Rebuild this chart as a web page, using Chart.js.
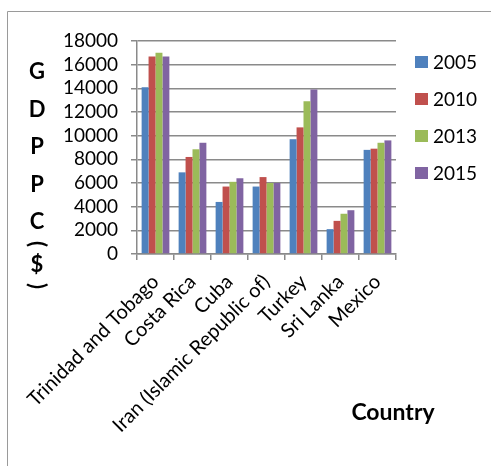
<!DOCTYPE html>
<html>
<head>
<meta charset="utf-8">
<script src="https://cdn.jsdelivr.net/npm/chart.js@4"></script>
<style>
  html, body { margin: 0; padding: 0; background: #fff; }
  #wrap { width: 491px; height: 466px; position: relative; }
</style>
</head>
<body>
<div id="wrap"><canvas id="chartGdp"></canvas></div>
<script>
const countries = ['Trinidad and Tobago', 'Costa Rica', 'Cuba', 'Iran (Islamic Republic of)', 'Turkey', 'Sri Lanka', 'Mexico'];
const years = ['2005', '2010', '2013', '2015'];
const gdp2005 = [14100, 6900, 4400, 5700, 9700, 2100, 8800];
const gdp2010 = [16700, 8200, 5700, 6500, 10700, 2800, 8900];
const gdp2013 = [17000, 8850, 6100, 6000, 12900, 3400, 9400];
const gdp2015 = [16700, 9400, 6400, 6000, 13900, 3700, 9600];
const yTicks = [0, 2000, 4000, 6000, 8000, 10000, 12000, 14000, 16000, 18000];
const colores = ['#4F81BD', '#C0504D', '#9BBB59', '#8064A2'];

const font = 'Lato, "Liberation Sans", sans-serif';
const gris = '#8a8a8a';

// --- marco, titulos y leyenda dibujados a mano ---
const extras = {
    id: 'extras',
    beforeDraw(chart) {
        const c = chart.ctx;
        c.save();
        c.fillStyle = '#fff';
        c.fillRect(0, 0, chart.width, chart.height);
        c.strokeStyle = '#9a9a9a';
        c.lineWidth = 1;
        c.beginPath();
        c.moveTo(7.5, chart.height);
        c.lineTo(7.5, 11.5);
        c.lineTo(chart.width, 11.5);
        c.stroke();
        c.restore();
    },
    afterDraw(chart) {
        const c = chart.ctx;
        c.save();
        c.fillStyle = '#000';
        c.textAlign = 'center';
        c.textBaseline = 'middle';
        c.font = 'bold 22px ' + font;
        const letras = ['G', 'D', 'P', 'P', 'C', '(', '$', ')'];
        const ys = [72, 110, 147, 185, 222, 244, 265, 286];
        letras.forEach((l, i) => {
            if (l === '(' || l === ')') {
                c.save();
                c.translate(37, ys[i]);
                c.rotate(Math.PI / 2);
                c.fillText(l, 0, 0);
                c.restore();
            } else {
                c.fillText(l, 37, ys[i]);
            }
        });

        c.font = 'bold 23px ' + font;
        c.fillText('Country', 393, 413);

        // leyenda
        c.font = '19px ' + font;
        c.textAlign = 'left';
        chart.data.datasets.forEach((ds, i) => {
            const y = 62 + i * 37;
            c.fillStyle = ds.backgroundColor;
            c.fillRect(415, y - 6, 13, 12);
            c.fillStyle = '#000';
            c.fillText(ds.label, 433, y + 1);
        });
        c.restore();
    }
};

const ctx = document.getElementById('chartGdp');
new Chart(ctx.getContext('2d'), {
    type: 'bar',
    data: {
        labels: countries,
        datasets: [
            { label: years[0], data: gdp2005, backgroundColor: colores[0] },
            { label: years[1], data: gdp2010, backgroundColor: colores[1] },
            { label: years[2], data: gdp2013, backgroundColor: colores[2] },
            { label: years[3], data: gdp2015, backgroundColor: colores[3] }
        ]
    },
    options: {
        responsive: true,
        maintainAspectRatio: false,
        animation: false,
        datasets: { bar: { categoryPercentage: 0.75, barPercentage: 1 } },
        layout: { padding: { left: 0, top: 41, right: 95, bottom: 0 } },
        plugins: { legend: { display: false }, tooltip: { enabled: false } },
        scales: {
            x: {
                afterFit: s => { s.height = 212; },
                grid: { drawOnChartArea: false, drawTicks: true, tickLength: 6, color: gris, lineWidth: 1.5 },
                border: { color: gris, width: 1.5 },
                ticks: {
                    color: '#000',
                    font: { family: font, size: 20 },
                    maxRotation: 45,
                    minRotation: 45,
                    autoSkip: false,
                    padding: 10
                }
            },
            y: {
                min: 0,
                max: 18000,
                afterFit: s => { s.width = 137; },
                afterBuildTicks: s => { s.ticks = yTicks.map(v => ({ value: v })); },
                grid: { color: gris, lineWidth: 1.5, tickLength: 6 },
                border: { color: gris, width: 1.5 },
                ticks: {
                    color: '#000',
                    font: { family: font, size: 19 },
                    padding: 13,
                    autoSkip: false,
                    callback: v => String(v)
                }
            }
        }
    },
    plugins: [extras]
});
</script>
</body>
</html>
